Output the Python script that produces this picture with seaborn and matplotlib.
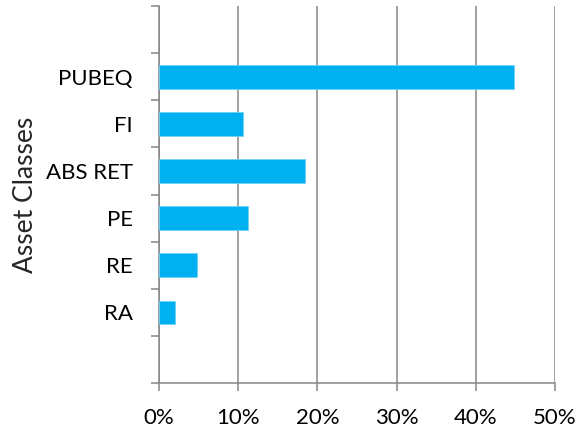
"""
Asset class allocation - horizontal bar chart
"""
import pandas as pd
import numpy as np
import matplotlib.pyplot as plt
import seaborn as sns
from matplotlib.ticker import FixedLocator, FuncFormatter

# data (percent)
asset_classes = ['PUBEQ', 'FI', 'ABS RET', 'PE', 'RE', 'RA']
weights = [44.8, 10.6, 18.5, 11.2, 4.8, 2.0]
x_ticks = [0, 10, 20, 30, 40, 50]

df = pd.DataFrame({'Asset Classes': asset_classes, 'Weight': weights})

sns.set_style('white')
plt.rcParams['font.family'] = ['Lato', 'DejaVu Sans']

grid_col = '#868686'
bar_col = '#00B0F0'

fig = plt.figure(figsize=(5.81, 4.32), dpi=100)
ax = fig.add_axes([0.2737, 0.1134, 0.955 - 0.2737, 0.986 - 0.1134])

sns.barplot(data=df, x='Weight', y='Asset Classes', order=asset_classes,
            color=bar_col, width=0.5, edgecolor='#6FD0F5', linewidth=0.6,
            saturation=1, ax=ax, zorder=3)

# one empty slot above and below the categories
ax.set_ylim(len(asset_classes) + 0.5, -1.5)
ax.set_xlim(0, 50)

ax.set_xticks(x_ticks)
ax.xaxis.set_major_formatter(FuncFormatter(lambda v, p: f'{v:.0f}%'))
ax.xaxis.grid(True, color=grid_col, linewidth=1.1, zorder=0)
ax.yaxis.grid(False)

# tick marks on slot boundaries, labels at slot centres
ax.yaxis.set_minor_locator(FixedLocator(np.arange(-1.5, len(asset_classes) + 1, 1.0)))
ax.tick_params(axis='y', which='major', length=0, pad=19, labelsize=16, colors='black')
ax.tick_params(axis='y', which='minor', length=6, width=1.1, color=grid_col, direction='out', left=True)
ax.tick_params(axis='x', which='major', length=6, width=1.1, color=grid_col, direction='out',
               bottom=True, pad=12, labelsize=16, labelcolor='black')

for s in ['top', 'right']:
    ax.spines[s].set_visible(False)
for s in ['left', 'bottom']:
    ax.spines[s].set_color(grid_col)
    ax.spines[s].set_linewidth(1.1)

ax.set_xlabel('')
ax.set_ylabel('Asset Classes', fontsize=19)
ax.yaxis.set_label_coords(-0.306, 0.5)

fig.savefig('out.png', dpi=100)
plt.close()
